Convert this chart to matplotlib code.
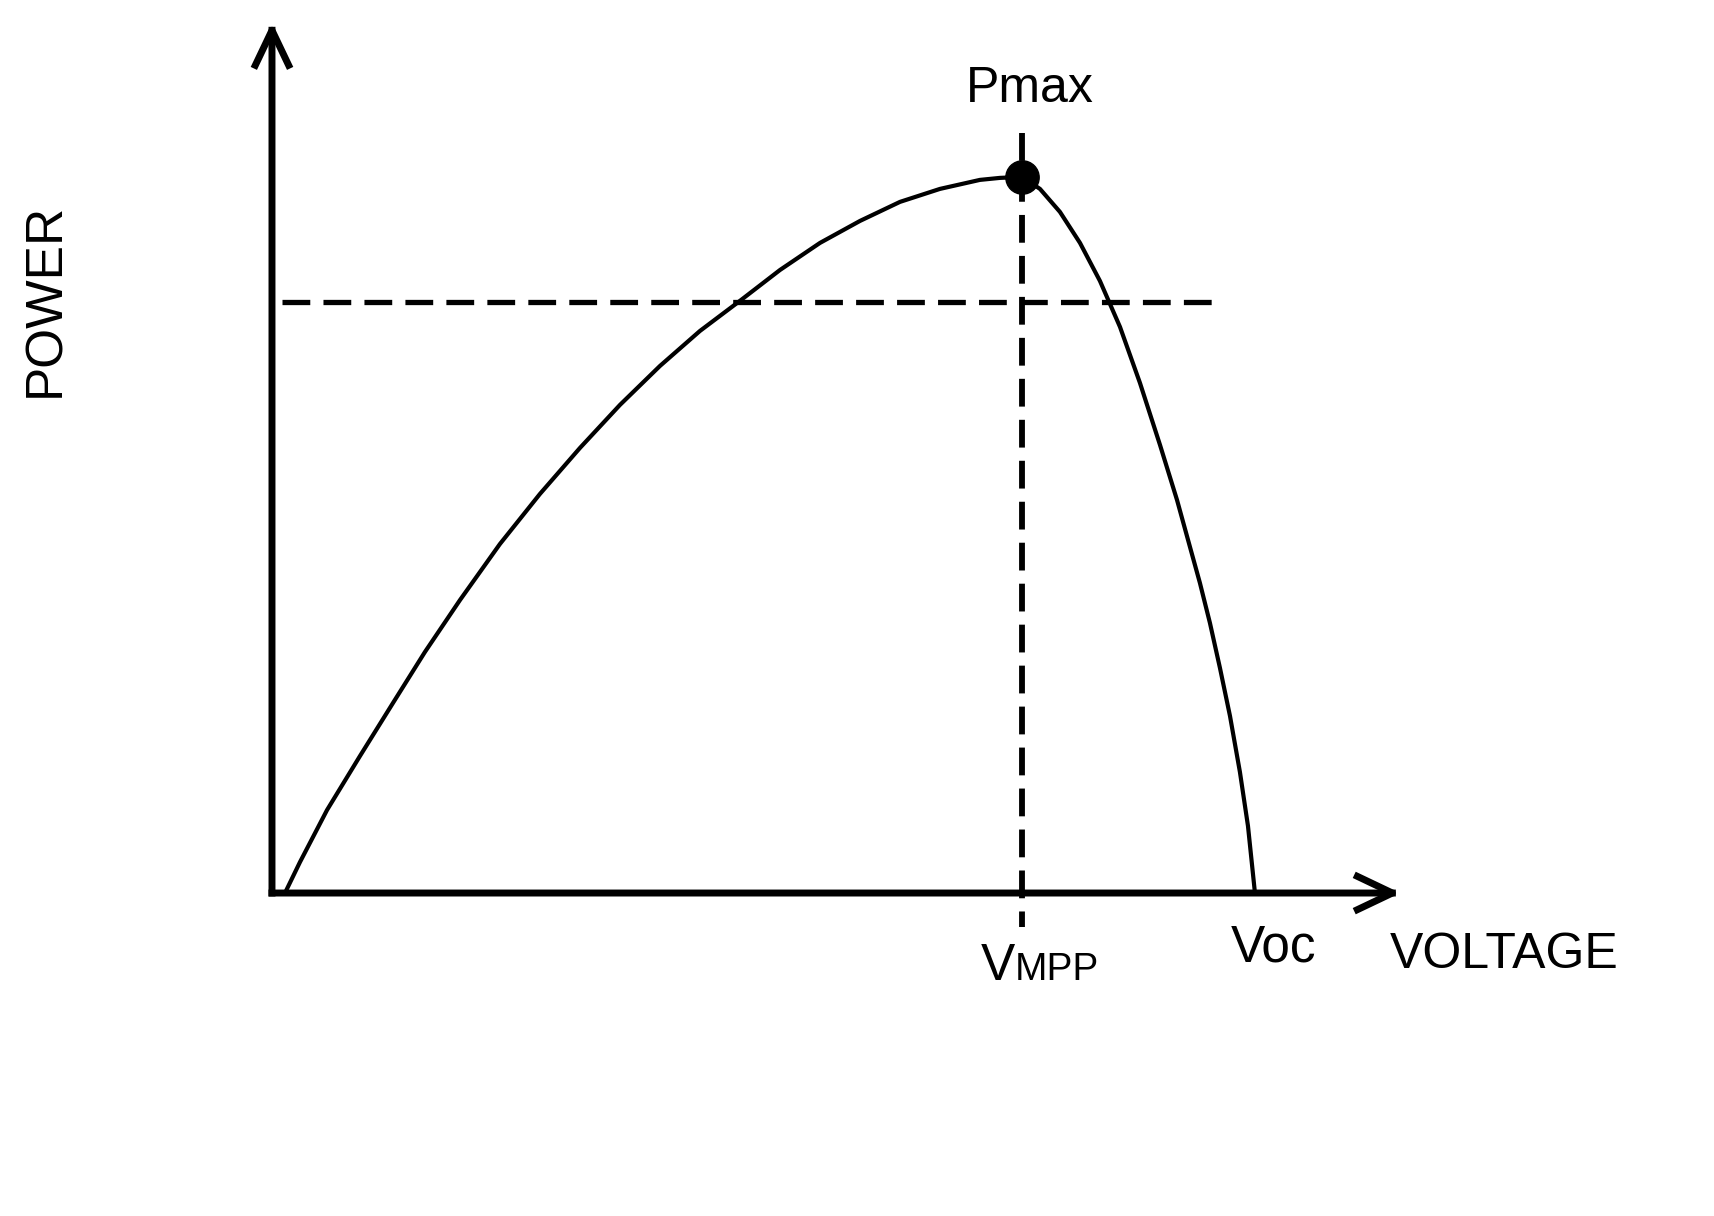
import numpy as np
import matplotlib
matplotlib.use('Agg')
import matplotlib.pyplot as plt

###########################################################
# data (voltage: Voc = 100, power: Pmax = 100)
voltage = [1.32, 2.85, 5.6, 8.95, 12.31, 15.56, 19.13, 23.19, 27.26, 31.33, 35.4, 39.47,
           43.54, 47.71, 51.68, 55.75, 59.82, 63.89, 67.95, 72.02, 74.06, 76.3,
           78.13, 80.16, 82.2, 84.23, 86.27, 88.3, 90.34, 92.07, 93.39, 94.4, 95.42,
           96.44, 97.46, 98.47, 99.29, 100.0]
power = [0.0, 4.33, 11.59, 19.13, 26.54, 33.66, 40.92, 48.74, 55.73, 62.15, 68.16, 73.6,
         78.49, 82.8, 87.0, 90.78, 93.85, 96.51, 98.32, 99.58, 99.86, 100.0,
         98.32, 95.11, 90.78, 85.47, 79.05, 71.23, 62.57, 54.89, 48.32, 43.3, 37.71,
         31.42, 24.72, 16.9, 9.36, 0.0]

v_mpp = 76.3
p_max = 100.0
p_level = 82.5      # horizontal dashed level
v_end_level = 96.6  # where the horizontal dashed line stops
v_axis_end = 114.8
p_axis_end = 121.6
###########################################################

plt.rcParams['font.family'] = ['Liberation Sans', 'DejaVu Sans']
plt.rcParams['lines.scale_dashes'] = False

fig = plt.figure(figsize=(17.14, 12.16), dpi=100)
ax = fig.add_axes([0, 0, 1, 1])
ax.set_xlim(-27.67, 146.7)
ax.set_ylim(-45.1, 124.7)
ax.axis('off')

# axes with arrows
arrow = dict(arrowstyle='->, head_length=0.84, head_width=0.4', mutation_scale=30,
             lw=5, color='black', shrinkA=0, shrinkB=0, capstyle='projecting')
ax.annotate('', xy=(v_axis_end, 0), xytext=(0, 0), arrowprops=arrow)
ax.annotate('', xy=(0, p_axis_end), xytext=(0, 0), arrowprops=arrow)

# P-V curve
ax.plot(voltage, power, color='black', lw=3.0, solid_capstyle='round',
        solid_joinstyle='round', zorder=3)

# dashed guide lines
ax.plot([1.0, v_end_level], [p_level, p_level], color='black', lw=3.8, dashes=(20, 9.5))
ax.plot([v_mpp, v_mpp], [106.1, -4.7], color='black', lw=4.2, dashes=(20, 9.5))

# maximum power point
ax.plot([v_mpp], [p_max], 'o', color='black', markersize=24, zorder=5)

# labels
ax.text(77.1, 110.5, 'Pmax', fontsize=36, ha='center', va='baseline')
ax.text(75.6, -12.2, 'V', fontsize=37, ha='right', va='baseline')
ax.text(75.6, -12.2, 'MPP', fontsize=28, ha='left', va='baseline')
ax.text(97.5, -9.6, 'Voc', fontsize=37, ha='left', va='baseline')
ax.text(113.7, -10.5, 'VOLTAGE', fontsize=36, ha='left', va='baseline')
ax.text(-23.0, 82.8, 'POWER', fontsize=37, rotation=90, ha='center', va='center')

fig.savefig('out.png', dpi=100, facecolor='white')
